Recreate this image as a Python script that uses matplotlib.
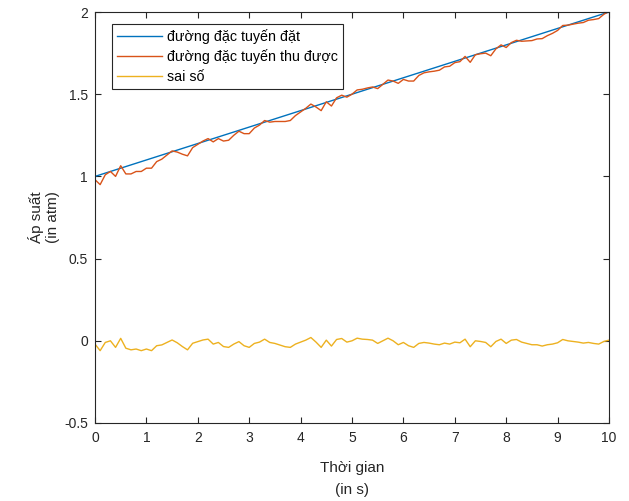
import numpy as np
import matplotlib
matplotlib.use("Agg")
import matplotlib.pyplot as plt

plt.rcParams['font.family'] = ['Liberation Sans', 'DejaVu Sans']

# time axis (s)
t = np.linspace(0, 10, 101)

# set characteristic: linear ramp 1 -> 2 atm
set_start = 1.0
set_end = 2.0

# measurement error (measured - set), atm
error = [
    -0.020, -0.060, -0.010, 0.000, -0.040, 0.015, -0.045, -0.055, -0.050, -0.060,
    -0.050, -0.060, -0.030, -0.025, -0.010, 0.005, -0.012, -0.035, -0.055, -0.015,
    -0.005, 0.005, 0.010, -0.020, -0.010, -0.035, -0.040, -0.020, -0.005, -0.030,
    -0.040, -0.016, -0.008, 0.010, -0.010, -0.016, -0.026, -0.036, -0.040, -0.020,
    -0.008, 0.004, 0.020, -0.008, -0.040, 0.004, -0.032, 0.008, 0.014, -0.008,
    0.000, 0.016, 0.010, 0.008, 0.004, -0.016, 0.000, 0.016, 0.000, -0.024,
    -0.010, -0.030, -0.040, -0.016, -0.010, -0.014, -0.020, -0.024, -0.014, -0.020,
    -0.008, -0.012, 0.010, -0.036, 0.000, -0.004, -0.010, -0.036, -0.004, 0.010,
    -0.016, 0.004, 0.008, -0.008, -0.016, -0.024, -0.024, -0.032, -0.024, -0.020,
    -0.012, 0.008, 0.000, -0.004, -0.008, -0.014, -0.010, -0.016, -0.020, -0.004,
    0.004,
]

series_labels = ["đường đặc tuyến đặt", "đường đặc tuyến thu được", "sai số"]
x_ticks = [0, 1, 2, 3, 4, 5, 6, 7, 8, 9, 10]
y_ticks = [-0.5, 0, 0.5, 1, 1.5, 2]
y_tick_labels = ["-0.5", "0", "0.5", "1", "1.5", "2"]

set_curve = set_start + (set_end - set_start) * t / 10.0
measured = set_curve + np.array(error)

fig = plt.figure(figsize=(6.29, 5.01), dpi=100)
ax = fig.add_axes([95 / 629, 1 - 423 / 501, 514 / 629, 411 / 501])

ax.plot(t, set_curve, color="#0072BD", lw=1.0, label=series_labels[0])
ax.plot(t, measured, color="#D95319", lw=1.0, label=series_labels[1])
ax.plot(t, error, color="#EDB120", lw=1.0, label=series_labels[2])

ax.set_xlim(0, 10)
ax.set_ylim(-0.5, 2)
ax.set_xticks(x_ticks)
ax.set_yticks(y_ticks)
ax.set_yticklabels(y_tick_labels)

axis_color = "#262626"
for sp in ax.spines.values():
    sp.set_color(axis_color)
    sp.set_linewidth(0.8)
ax.tick_params(direction="in", length=4, width=0.8, top=True, right=True,
               colors=axis_color, labelsize=10, pad=5)
ax.tick_params(axis="x", pad=6)

ax.set_xlabel("Thời gian\n(in s)", fontsize=11, color=axis_color, labelpad=11,
              linespacing=1.75)
ax.set_ylabel("Áp suất\n(in atm)", fontsize=11, color=axis_color, labelpad=3,
              linespacing=1.2)

leg = ax.legend(loc="upper left", bbox_to_anchor=(0.0325, 0.971), borderaxespad=0,
                fontsize=10.3, frameon=True, fancybox=False, handlelength=3.15,
                handletextpad=0.4, labelspacing=0.4, borderpad=0.35)
leg.get_frame().set_edgecolor(axis_color)
leg.get_frame().set_linewidth(0.8)
leg.get_frame().set_alpha(1)

fig.savefig("out.png", dpi=100)
